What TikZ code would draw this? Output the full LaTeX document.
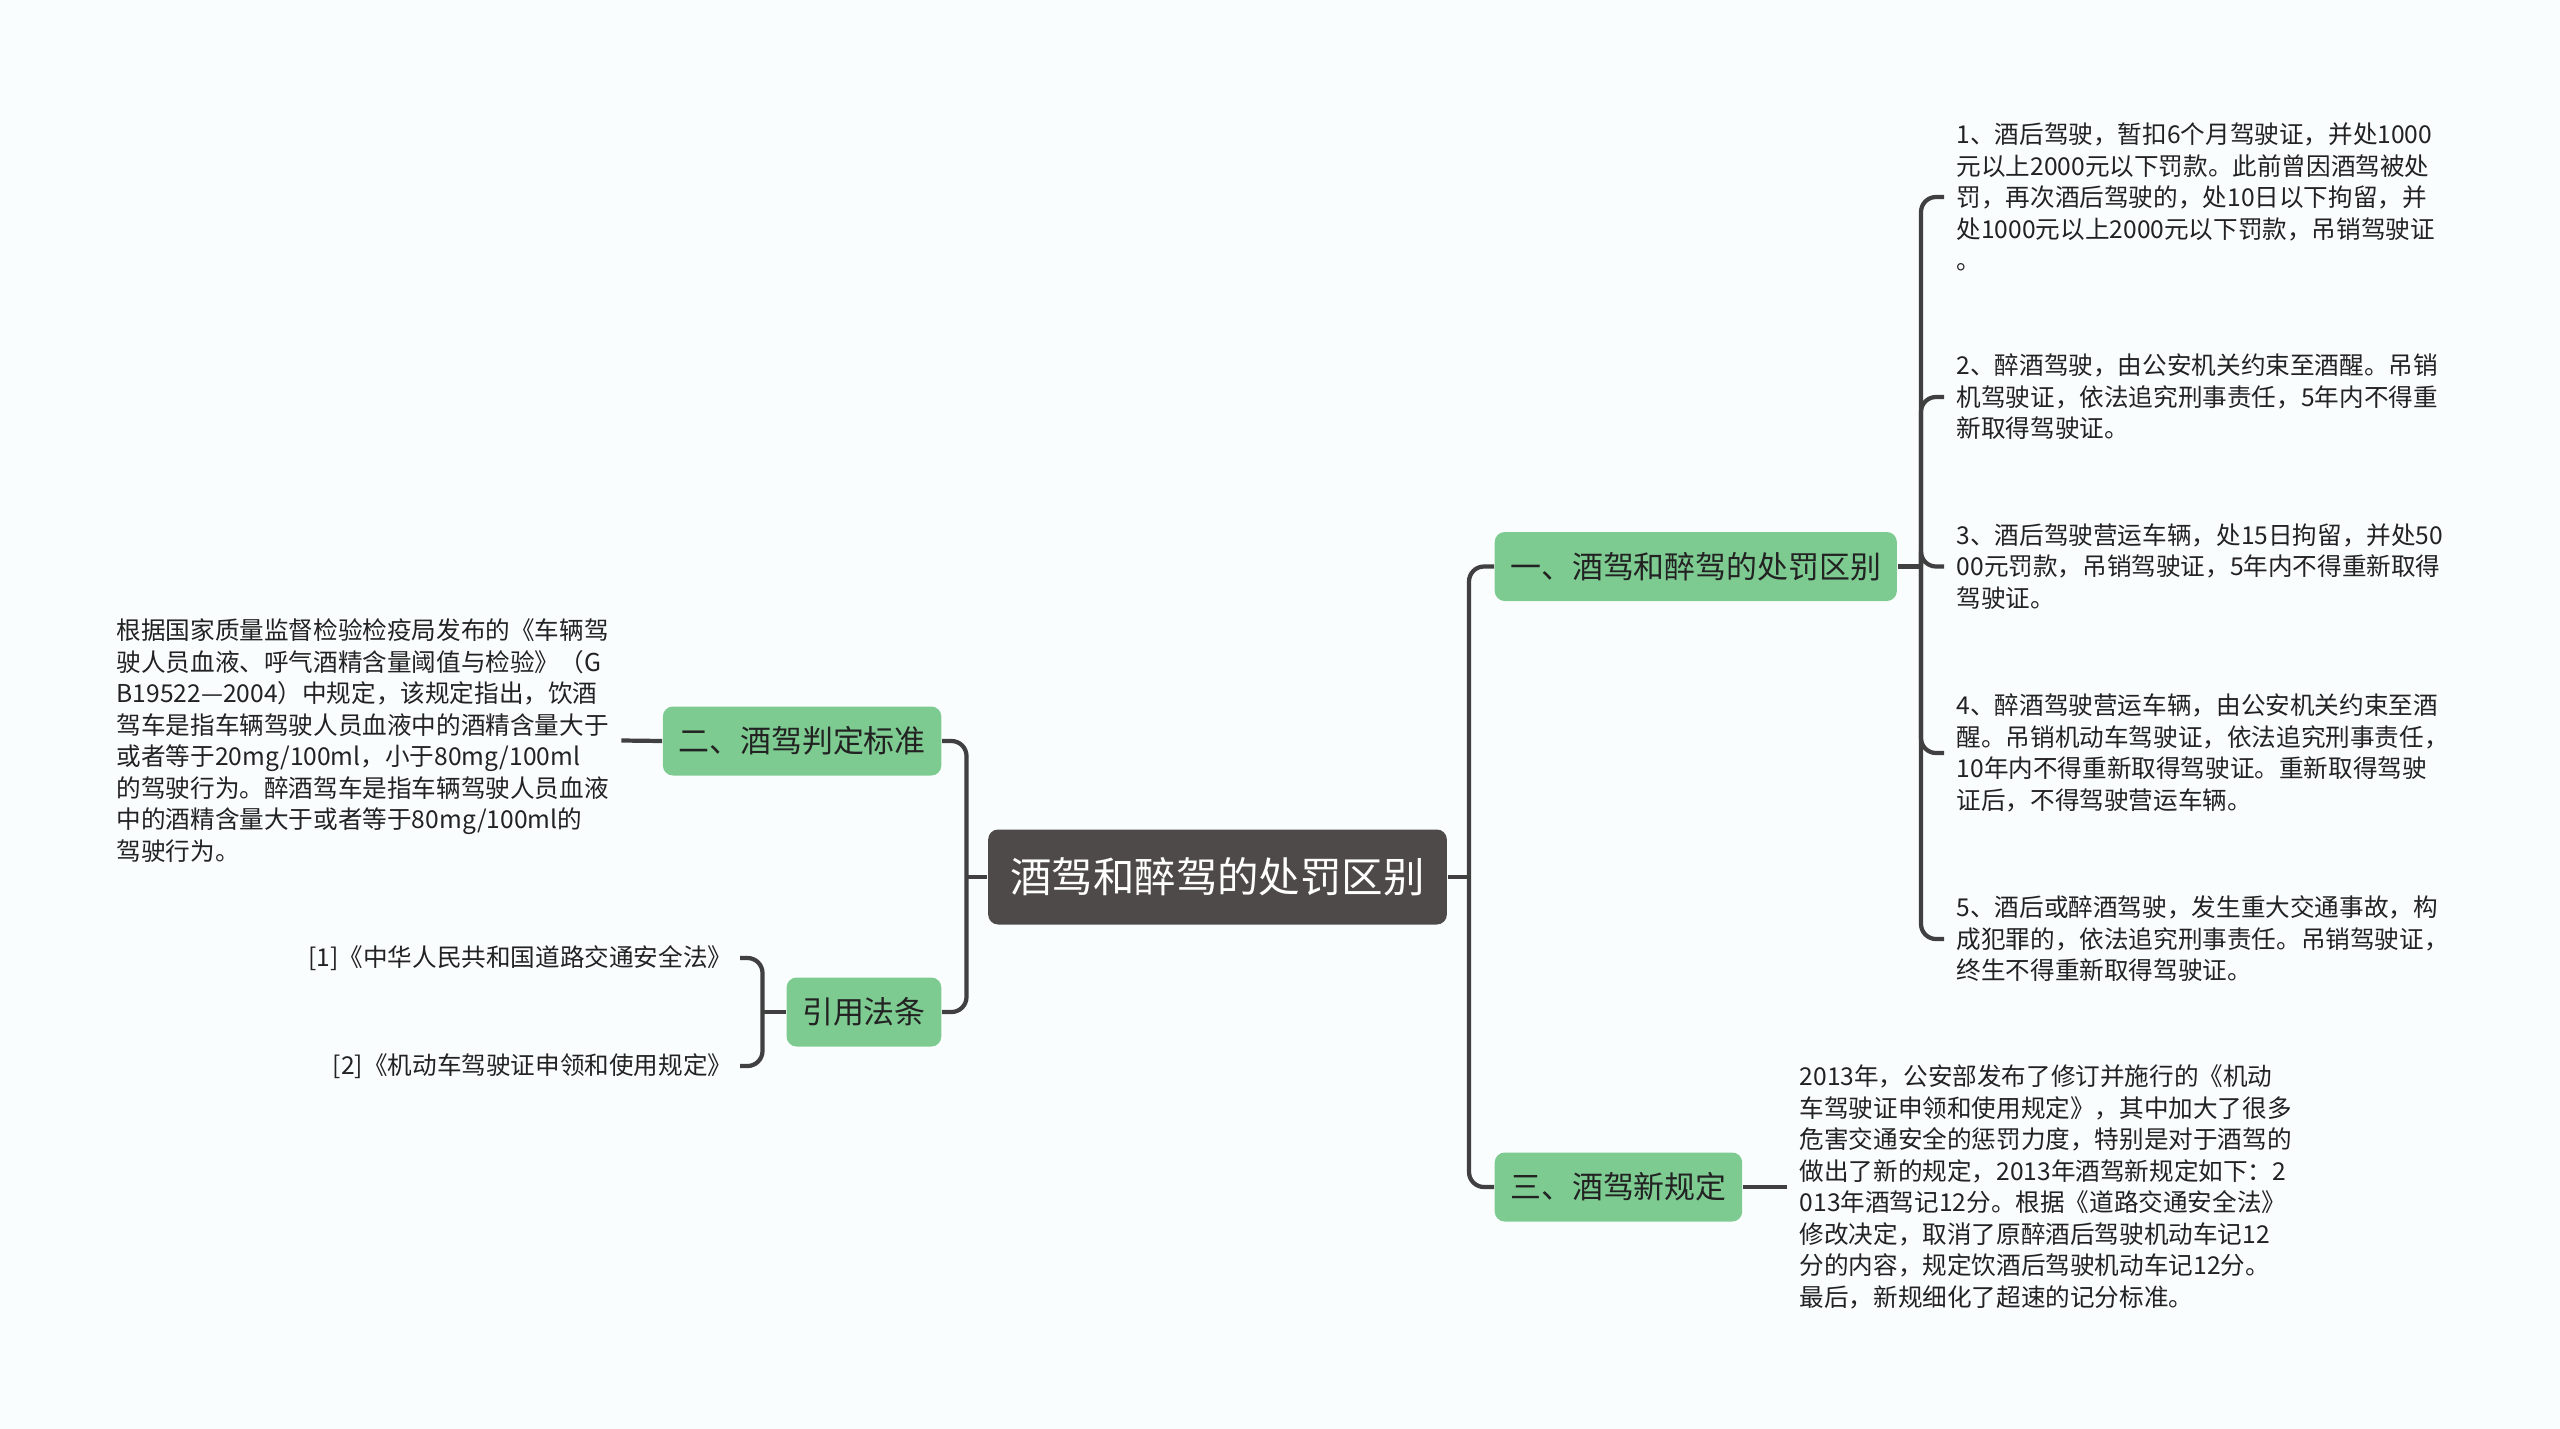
\documentclass[tikz,border=0pt]{standalone}
\usepackage{fontspec}
\setmainfont{Noto Sans CJK SC}
\definecolor{hubfill}{RGB}{79,74,74}
\definecolor{topicfill}{RGB}{126,203,146}
\definecolor{wiregray}{RGB}{64,64,64}
\definecolor{inktext}{RGB}{34,34,34}
\definecolor{paper}{RGB}{250,253,254}

\begin{document}
\begin{tikzpicture}[
  hub/.style={fill=hubfill, rounded corners=0.1cm, text=white,
    font=\fontsize{11.8}{14}\selectfont, minimum height=0.95cm,
    inner xsep=0.22cm, inner ysep=0pt},
  topic/.style={fill=topicfill, rounded corners=0.1cm, text=inktext,
    font=\fontsize{8.8}{10.5}\selectfont, minimum height=0.69cm,
    inner xsep=0.155cm, inner ysep=0pt},
  note/.style={align=left, text=inktext, font=\fontsize{7}{8.96}\selectfont,
    inner xsep=0.12cm, inner ysep=0pt},
  cite/.style={note, align=right, inner xsep=0.07cm, anchor=east},
  wire/.style={draw=wiregray, line width=1.2pt},
  elbow/.style={wire, rounded corners=0.15cm},
]

% Background and page size
\fill[paper] (0,0) rectangle (25.6,-14.29);
\useasboundingbox (0,0) rectangle (25.6,-14.29);

% --- Centre ---
\node[hub] (hub) at (12.175,-8.77) {酒驾和醉驾的处罚区别};

% --- Main topics ---
\node[topic, anchor=west] (t1) at (14.94,-5.665) {一、酒驾和醉驾的处罚区别};
\node[topic, anchor=west] (t3) at (14.94,-11.87) {三、酒驾新规定};
\node[topic, anchor=east] (t2) at (9.42,-7.41) {二、酒驾判定标准};
\node[topic, anchor=east] (t4) at (9.42,-10.12) {引用法条};

% Junctions
\coordinate (jr) at (14.69,-8.77);
\coordinate (jl) at (9.665,-8.77);
\coordinate (j1) at (19.21,-5.665);
\coordinate (jc) at (7.625,-10.12);

% --- Penalties ---
\node[note, anchor=west] (n1) at (19.44,-1.97) {1、酒后驾驶，暂扣6个月驾驶证，并处1000\\元以上2000元以下罚款。此前曾因酒驾被处\\罚，再次酒后驾驶的，处10日以下拘留，并\\处1000元以上2000元以下罚款，吊销驾驶证\\。};
\node[note, anchor=west] (n2) at (19.44,-3.97) {2、醉酒驾驶，由公安机关约束至酒醒。吊销\\机驾驶证，依法追究刑事责任，5年内不得重\\新取得驾驶证。};
\node[note, anchor=west] (n3) at (19.44,-5.665) {3、酒后驾驶营运车辆，处15日拘留，并处50\\00元罚款，吊销驾驶证，5年内不得重新取得\\驾驶证。};
\node[note, anchor=west] (n4) at (19.44,-7.53) {4、醉酒驾驶营运车辆，由公安机关约束至酒\\醒。吊销机动车驾驶证，依法追究刑事责任，\\10年内不得重新取得驾驶证。重新取得驾驶\\证后，不得驾驶营运车辆。};
\node[note, anchor=west] (n5) at (19.44,-9.39) {5、酒后或醉酒驾驶，发生重大交通事故，构\\成犯罪的，依法追究刑事责任。吊销驾驶证，\\终生不得重新取得驾驶证。};

% --- New rules ---
\node[note, anchor=west] (t3note) at (17.87,-11.87) {2013年，公安部发布了修订并施行的《机动\\车驾驶证申领和使用规定》，其中加大了很多\\危害交通安全的惩罚力度，特别是对于酒驾的\\做出了新的规定，2013年酒驾新规定如下：2\\013年酒驾记12分。根据《道路交通安全法》\\修改决定，取消了原醉酒后驾驶机动车记12\\分的内容，规定饮酒后驾驶机动车记12分。\\最后，新规细化了超速的记分标准。};

% --- Standard ---
\node[note, anchor=west] (t2note) at (1.04,-7.405) {根据国家质量监督检验检疫局发布的《车辆驾\\驶人员血液、呼气酒精含量阈值与检验》（G\\B19522—2004）中规定，该规定指出，饮酒\\驾车是指车辆驾驶人员血液中的酒精含量大于\\或者等于20mg/100ml，小于80mg/100ml\\的驾驶行为。醉酒驾车是指车辆驾驶人员血液\\中的酒精含量大于或者等于80mg/100ml的\\驾驶行为。};

% --- Laws cited ---
\node[cite] (c1) at (7.40,-9.58) {[1]《中华人民共和国道路交通安全法》};
\node[cite] (c2) at (7.40,-10.66) {[2]《机动车驾驶证申领和使用规定》};

% Connectors
\draw[wire] (hub.east) -- (jr);
\draw[elbow] (jr) |- (t1.west);
\draw[elbow] (jr) |- (t3.west);
\draw[wire] (hub.west) -- (jl);
\draw[elbow] (jl) |- (t2.east);
\draw[elbow] (jl) |- (t4.east);

\draw[wire] (t1.east) -- (j1);
\foreach \n in {1,...,5}{
  \draw[elbow] (j1) |- (n\n.west);
}

\draw[wire] (t3.east) -- (t3note.west);
\draw[wire] (t2.west) -- (t2note.east);

\draw[wire] (t4.west) -- (jc);
\draw[elbow] (jc) |- (c1.east);
\draw[elbow] (jc) |- (c2.east);

\end{tikzpicture}
\end{document}
